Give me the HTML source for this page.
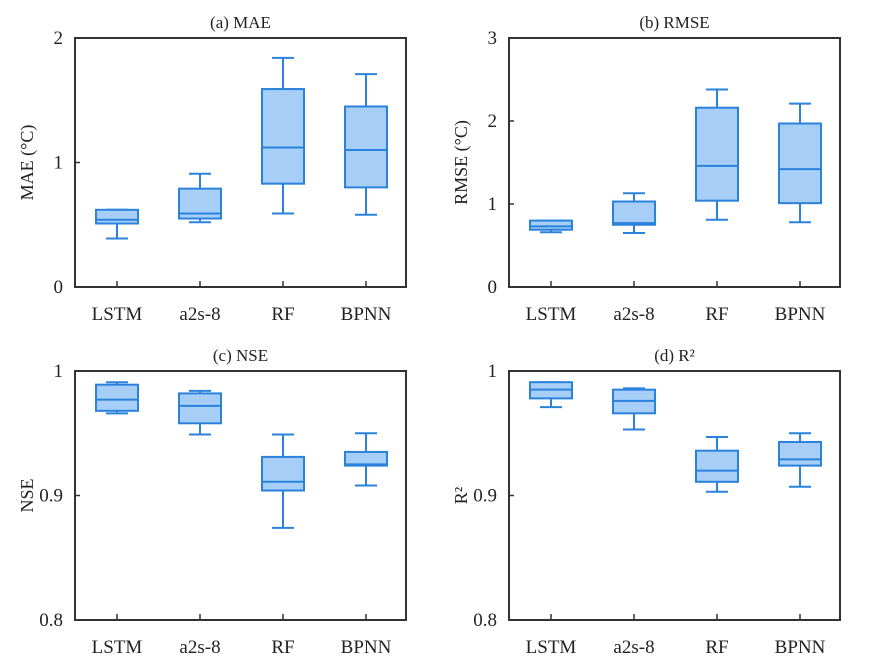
<!DOCTYPE html>
<html><head><meta charset="utf-8"><style>
html,body{margin:0;padding:0;background:#fff}
svg{display:block;font-family:"Liberation Serif",serif}
</style></head><body>
<svg id="chart" width="870" height="666" viewBox="0 0 870 666" xmlns="http://www.w3.org/2000/svg"></svg>
<script>
const categories = ["LSTM","a2s-8","RF","BPNN"];
// each: [low, q1, median, q3, high]
const maeStats = [[0.39,0.51,0.54,0.62,0.62],[0.52,0.55,0.59,0.79,0.91],[0.59,0.83,1.12,1.59,1.84],[0.58,0.80,1.10,1.45,1.71]];
const rmseStats = [[0.66,0.69,0.73,0.80,0.80],[0.65,0.75,0.77,1.03,1.13],[0.81,1.04,1.46,2.16,2.38],[0.78,1.01,1.42,1.97,2.21]];
const nseStats = [[0.966,0.968,0.977,0.989,0.991],[0.949,0.958,0.972,0.982,0.984],[0.874,0.904,0.911,0.931,0.949],[0.908,0.924,0.925,0.935,0.950]];
const r2Stats = [[0.971,0.978,0.985,0.991,0.991],[0.953,0.966,0.976,0.985,0.986],[0.903,0.911,0.920,0.936,0.947],[0.907,0.924,0.929,0.943,0.950]];
const maeTicks = [0,1,2];
const rmseTicks = [0,1,2,3];
const nseTicks = [0.8,0.9,1];
const r2Ticks = [0.8,0.9,1];

const NS = "http://www.w3.org/2000/svg";
const svg = document.getElementById("chart");
function mk(tag, attrs, parent, text){
  const e = document.createElementNS(NS, tag);
  for (const k in attrs) e.setAttribute(k, attrs[k]);
  if (text !== undefined) e.textContent = text;
  (parent||svg).appendChild(e);
  return e;
}
const panels = [
  {id:"mae", title:"(a) MAE", ylabel:"MAE (°C)", stats:maeStats, ticks:maeTicks, min:0, max:2, L:75, R:406, T:38, B:287, fmt:v=>String(v)},
  {id:"rmse", title:"(b) RMSE", ylabel:"RMSE (°C)", stats:rmseStats, ticks:rmseTicks, min:0, max:3, L:509, R:840, T:38, B:287, fmt:v=>String(v)},
  {id:"nse", title:"(c) NSE", ylabel:"NSE", stats:nseStats, ticks:nseTicks, min:0.8, max:1, L:75, R:406, T:371, B:620, fmt:v=>v===1?"1":v.toFixed(1)},
  {id:"r2", title:"(d) R²", ylabel:"R²", stats:r2Stats, ticks:r2Ticks, min:0.8, max:1, L:509, R:840, T:371, B:620, fmt:v=>v===1?"1":v.toFixed(1)}
];
panels.forEach(p=>{
  const g = mk("g",{});
  
  
  const y = v => p.B - (v-p.min)/(p.max-p.min)*(p.B-p.T);
  const x = i => p.L + 42 + i*83;
  const t = mk("text",{x:(p.L+p.R)/2, y:p.T-10, "text-anchor":"middle","font-size":17,fill:"#222"},g,p.title);
  
  
  const yl = mk("text",{x:0,y:0,transform:`translate(${p.L-42},${(p.T+p.B)/2}) rotate(-90)`,"text-anchor":"middle","font-size":18,fill:"#222"},g,p.ylabel);
  
  
  p.ticks.forEach(tv=>{
    const ty = y(tv);
    mk("line",{x1:p.L,x2:p.L+5,y1:ty,y2:ty,stroke:"#333","stroke-width":1.5},g);
    const tl = mk("text",{x:p.L-12,y:ty+6,"text-anchor":"end","font-size":19,fill:"#222"},g,p.fmt(tv));
    
    
  });
  categories.forEach((c,i)=>{
    const cx = x(i);
    mk("line",{x1:cx,x2:cx,y1:p.B,y2:p.B-6,stroke:"#333","stroke-width":1.5},g);
    const xl = mk("text",{x:cx,y:p.B+33,"text-anchor":"middle","font-size":19,fill:"#222"},g,c);
    
    
    const s = p.stats[i];
    const bg = mk("g",{stroke:"#2a82dc","stroke-width":2},g);
    
    
    mk("line",{x1:cx,x2:cx,y1:y(s[0]),y2:y(s[1])},bg);
    mk("line",{x1:cx,x2:cx,y1:y(s[3]),y2:y(s[4])},bg);
    mk("line",{x1:cx-11,x2:cx+11,y1:y(s[0]),y2:y(s[0])},bg);
    mk("line",{x1:cx-11,x2:cx+11,y1:y(s[4]),y2:y(s[4])},bg);
    mk("rect",{x:cx-21,y:y(s[3]),width:42,height:Math.max(1,y(s[1])-y(s[3])),fill:"#a7cef7"},bg);
    mk("line",{x1:cx-21,x2:cx+21,y1:y(s[2]),y2:y(s[2])},bg);
  });
  const fr = mk("rect",{x:p.L,y:p.T,width:p.R-p.L,height:p.B-p.T,fill:"none",stroke:"#333","stroke-width":2},g);
  
  
});
</script>
</body></html>
